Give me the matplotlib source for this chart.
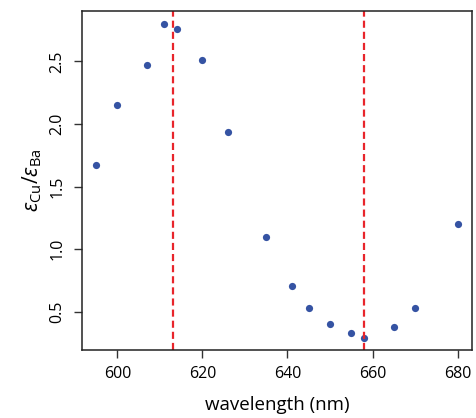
import matplotlib
matplotlib.use("Agg")
import matplotlib.pyplot as plt

plt.rcParams['font.family'] = ['Open Sans', 'DejaVu Sans']
plt.rcParams['mathtext.fontset'] = 'custom'
plt.rcParams['mathtext.rm'] = 'Open Sans'
plt.rcParams['mathtext.it'] = 'Open Sans:italic'

wavelength = [595, 600, 607, 611, 614, 620, 626, 635, 641, 645, 650, 655, 658, 665, 670, 680]
ratio = [1.67, 2.15, 2.47, 2.80, 2.76, 2.51, 1.94, 1.10, 0.71, 0.53, 0.40, 0.33, 0.29, 0.38, 0.53, 1.20]
cutoffs = [613, 658]

fig = plt.figure(figsize=(4.77, 4.18), dpi=100)
ax = fig.add_axes([0.1713, 0.1627, 0.8182, 0.811])

ax.plot(wavelength, ratio, 'o', color='#3553a3', ms=5.2, mec='none')
for c in cutoffs:
    ax.axvline(c, color='#e8252b', lw=1.6, ls=(0, (3.2, 1.8)))

ax.set_xlim(591.6, 683.4)
ax.set_ylim(0.196, 2.902)
ax.set_xticks([600, 620, 640, 660, 680])
ax.set_yticks([0.5, 1.0, 1.5, 2.0, 2.5])
ax.set_yticklabels(['0.5', '1.0', '1.5', '2.0', '2.5'], rotation=90, va='center')
ax.tick_params(length=5.5, width=1, color='#333333', labelsize=11.5, pad=6)
for s in ax.spines.values():
    s.set_linewidth(1.1)
    s.set_color('#222222')

ax.set_xlabel('wavelength (nm)', fontsize=13.5, labelpad=10)
ax.set_ylabel(r'$\mathit{\varepsilon}_{\mathrm{Cu}}/\mathit{\varepsilon}_{\mathrm{Ba}}$', fontsize=15, labelpad=4)

fig.savefig('out.png', dpi=100)
